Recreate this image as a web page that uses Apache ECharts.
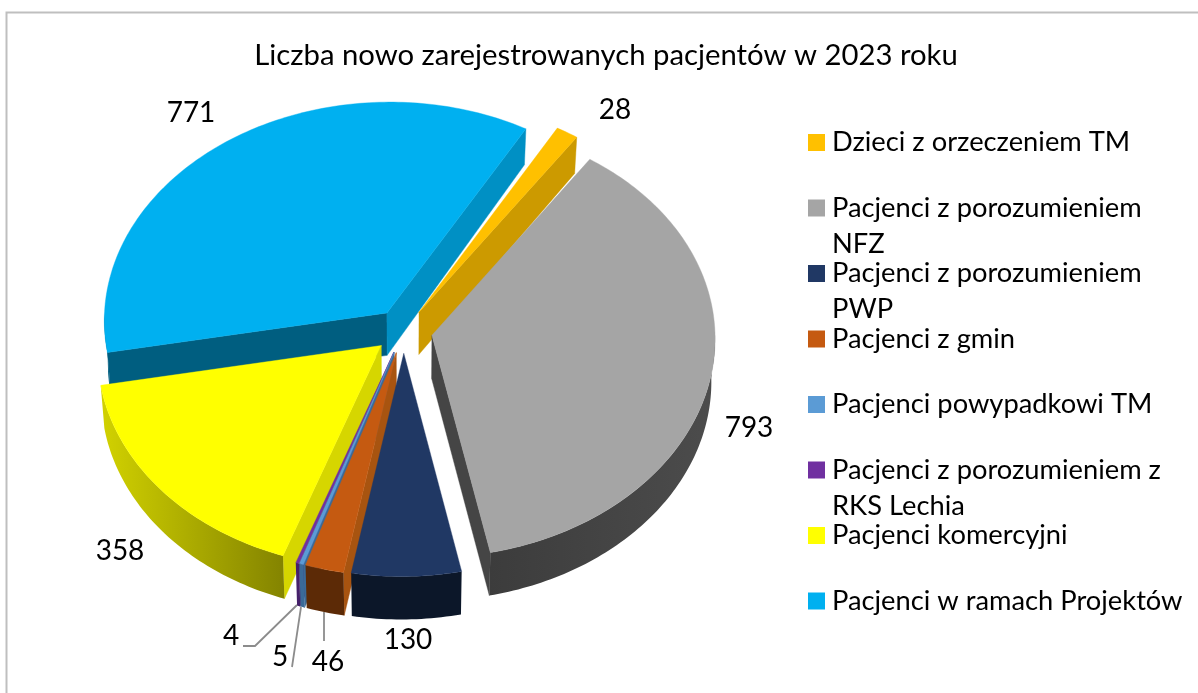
<!DOCTYPE html>
<html>
<head>
<meta charset="utf-8">
<style>html,body{margin:0;padding:0;background:#fff}#c{width:1198px;height:693px}</style>
<script src="https://cdn.jsdelivr.net/npm/echarts@6/dist/echarts.min.js"></script>
</head>
<body>
<div id="c"></div>
<script>
const categories = ['Dzieci z orzeczeniem TM','Pacjenci z porozumieniem NFZ','Pacjenci z porozumieniem PWP','Pacjenci z gmin','Pacjenci powypadkowi TM','Pacjenci z porozumieniem z RKS Lechia','Pacjenci komercyjni','Pacjenci w ramach Projektów'];
const values = [28,793,130,46,5,4,358,771];
const titleText = 'Liczba nowo zarejestrowanych pacjentów w 2023 roku';

const topColors  = ['#ffc000','#a5a5a5','#203864','#c55a11','#5b9bd5','#7030a0','#ffff00','#00b0f0'];
const sideColors = ['#cc9a00','#454545','#0c1729','#a85410','#3a6a98','#45206a','#d6d600','#005e80'];
const endColors  = ['#cc9a00','#454545','#0c1729','#a85410','#3a6a98','#45206a','#d6d600','#0090c4'];
const rimGrad    = [['#cc9a00','#cc9a00'],['#3c3c3c','#4c4c4c'],['#0c1729','#0c1729'],['#5c2a06','#5c2a06'],['#3a6a98','#3a6a98'],['#45206a','#45206a'],['#d2d200','#848400'],['#005e80','#005e80']];
const paintOrder = [7,0,1,6,5,4,3,2];
const legendWrap = {'Pacjenci z porozumieniem NFZ':'Pacjenci z porozumieniem\nNFZ','Pacjenci z porozumieniem PWP':'Pacjenci z porozumieniem\nPWP','Pacjenci z porozumieniem z RKS Lechia':'Pacjenci z porozumieniem z\nRKS Lechia'};
const labelAt = [[615,110],[749,428],[408,640],[328,662],[280,657],[231,636],[120,551],[191,113]];
const leaders = {3:[[324,612],[324,641]],4:[[301,607],[292,667]],5:[[297,605],[255,646],[243,646]]};

const FONT = 'Lato, "Open Sans", sans-serif';
const cx = 403.5, cy = 331, R = 283, K = 0.766, PERSP = 0.024, SKEW = 0.01, EXPLODE = 29, START = 29.5;
const total = values.reduce((a,b)=>a+b,0);
const angles = [];
(function(){let a=START;values.forEach(v=>{const s=a;a+=v/total*360;angles.push([s,a]);});})();
const rad = d => d*Math.PI/180;
function project(X,Y){const s=1/(1-PERSP*Y/R);return [cx+(X-SKEW*Y)*s,cy+K*Y*s];}
function depth(y){return Math.min(43,36+0.035*(y-130));}
function drop(p){return [p[0]+(cx-p[0])*0.012,p[1]+depth(p[1])];}

function makeRender(i){
  return function(params,api){
    const [s,e]=angles[i], mid=(s+e)/2;
    const wx=EXPLODE*Math.sin(rad(mid)), wy=-EXPLODE*Math.cos(rad(mid));
    const tip=project(wx,wy);
    const rim=a=>project(wx+R*Math.sin(rad(a)),wy-R*Math.cos(rad(a)));
    const arc=(a,b)=>{const n=Math.max(2,Math.ceil(b-a)),o=[];for(let k=0;k<=n;k++)o.push(rim(a+(b-a)*k/n));return o;};
    const kids=[];
    const poly=(pts,fill)=>kids.push({type:'polygon',shape:{points:pts},style:{fill:fill,stroke:fill,lineWidth:0.4}});
    const Qs=rim(s),Qe=rim(e);
    if(Qs[0]<tip[0]) poly([tip,Qs,drop(Qs),drop(tip)],sideColors[i]);
    if(Qe[0]>tip[0]) poly([tip,Qe,drop(Qe),drop(tip)],endColors[i]);
    for(const off of [0,360]){
      const a=Math.max(s,90+off),b=Math.min(e,270+off);
      if(b>a){
        const top=arc(a,b),bot=top.map(drop).reverse();
        const xs=top.map(p=>p[0]);
        kids.push({type:'polygon',shape:{points:top.concat(bot)},style:{
          fill:new echarts.graphic.LinearGradient(Math.min(...xs),0,Math.max(...xs),0,[{offset:0,color:rimGrad[i][0]},{offset:1,color:rimGrad[i][1]}],true)}});
      }
    }
    poly([tip].concat(arc(s,e)),topColors[i]);
    if(leaders[i]) kids.push({type:'polyline',shape:{points:leaders[i]},style:{stroke:'#8c8c8c',lineWidth:1.8,fill:null}});
    kids.push({type:'text',style:{text:String(api.value(0)),x:labelAt[i][0],y:labelAt[i][1],align:'center',verticalAlign:'middle',font:'28px '+FONT,fill:'#000'}});
    return {type:'group',children:kids};
  };
}

const series = categories.map((name,i)=>({
  type:'custom',name:name,coordinateSystem:'none',silent:true,
  z:2+paintOrder.indexOf(i),
  itemStyle:{color:topColors[i]},
  data:[[values[i]]],
  renderItem:makeRender(i)
}));

const chart = echarts.init(document.getElementById('c'),null,{renderer:'canvas'});
chart.setOption({
  animation:false,
  backgroundColor:'#fff',
  title:{text:titleText,left:601,top:36,textAlign:'center',textStyle:{fontFamily:FONT,fontSize:29.3,fontWeight:'normal',color:'#000'}},
  legend:{
    orient:'vertical',left:808,top:88.5,padding:0,
    icon:'rect',itemWidth:17,itemHeight:17,itemGap:-42.5,
    data:categories,selectedMode:false,
    formatter:n=>'\n'+(legendWrap[n]||n+'\n '),
    textStyle:{fontFamily:FONT,fontSize:27.3,lineHeight:36,color:'#000',padding:[0,0,0,2]}
  },
  graphic:[{type:'polyline',shape:{points:[[6.5,693],[6.5,12.5],[1198,12.5]]},style:{stroke:'#bfbfbf',lineWidth:2,fill:null},silent:true}],
  series:series
});
</script>
</body>
</html>
